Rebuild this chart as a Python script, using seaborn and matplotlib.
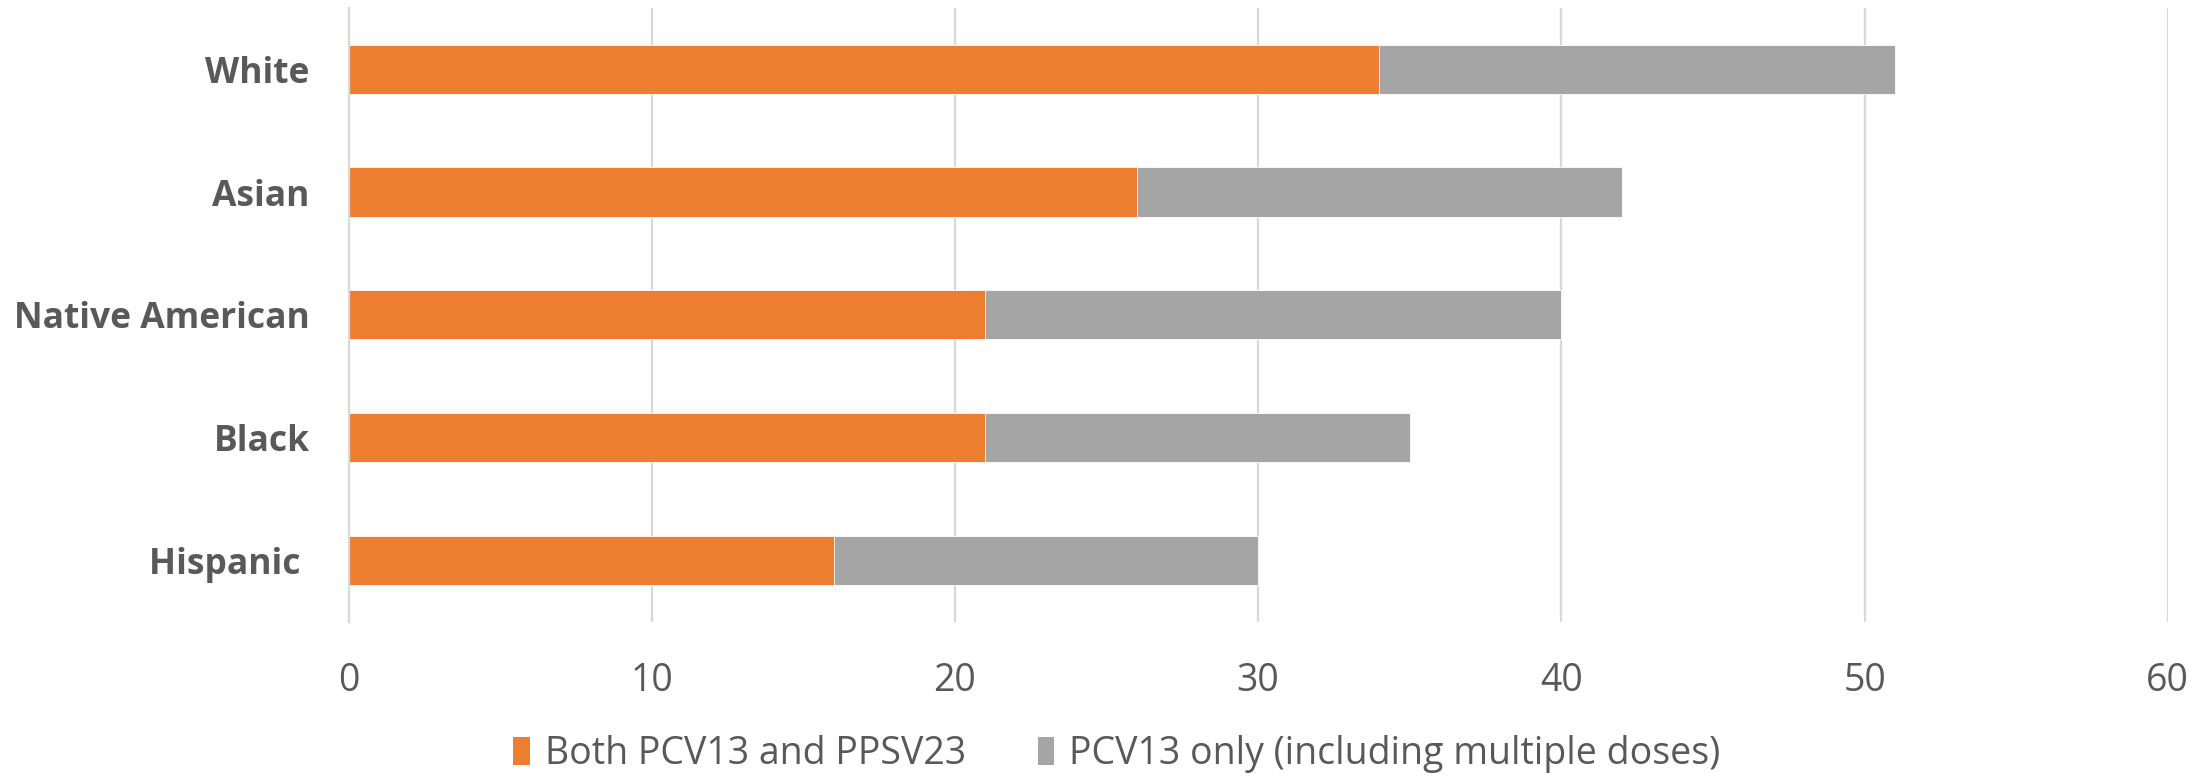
import matplotlib
matplotlib.use("Agg")
import matplotlib.pyplot as plt
from matplotlib.patches import Patch
import seaborn as sns
import pandas as pd

# Pneumococcal vaccination by race/ethnicity (%)
groups = ["White", "Asian", "Native American", "Black", "Hispanic "]
both_pcv13_ppsv23 = [34, 26, 21, 21, 16]
pcv13_only = [17, 16, 19, 14, 14]
x_ticks = [0, 10, 20, 30, 40, 50, 60]

series_names = ["Both PCV13 and PPSV23", "PCV13 only (including multiple doses)"]
colors = ["#ED7D31", "#A5A5A5"]
text_color = "#595959"

df = pd.DataFrame({
    "group": groups,
    "both": both_pcv13_ppsv23,
    "only": pcv13_only,
})
df["total"] = df["both"] + df["only"]

sns.set_theme(style="white")
plt.rcParams["font.family"] = ["Open Sans", "DejaVu Sans"]

fig = plt.figure(figsize=(22.12, 7.76), dpi=100)
ax = fig.add_axes([0.1576, 0.1985, 0.8224, 0.7915])

# Stacked horizontal bars: full total in grey, first segment in orange over it
sns.barplot(data=df, y="group", x="total", color=colors[1], width=0.4,
            orient="h", ax=ax, saturation=1, edgecolor="white", linewidth=0.6)
sns.barplot(data=df, y="group", x="both", color=colors[0], width=0.4,
            orient="h", ax=ax, saturation=1, edgecolor="white", linewidth=0.6)

ax.set_xlim(0, 60)
ax.set_ylim(4.5, -0.5)
ax.set_xticks(x_ticks)
ax.set_xlabel("")
ax.set_ylabel("")
ax.grid(axis="x", color="#D9D9D9", linewidth=1.6)
ax.set_axisbelow(True)
for side in ["top", "right", "bottom"]:
    ax.spines[side].set_visible(False)
ax.spines["left"].set_color("#D9D9D9")
ax.spines["left"].set_linewidth(1.6)

ax.tick_params(axis="x", length=0, pad=29, labelsize=27, labelcolor=text_color)
ax.tick_params(axis="y", length=0, pad=28, labelsize=25.5, labelcolor=text_color)
for lbl in ax.get_yticklabels():
    lbl.set_fontweight("bold")

handles = [Patch(facecolor=c, edgecolor="none", label=n) for c, n in zip(colors, series_names)]
fig.legend(handles=handles, loc="center", bbox_to_anchor=(0.505, 0.028), ncol=2,
           frameon=False, fontsize=27, handlelength=0.45, handleheight=0.75,
           handletextpad=0.4, columnspacing=1.9, labelcolor=text_color)

fig.savefig("out.png", dpi=100, facecolor="white")
